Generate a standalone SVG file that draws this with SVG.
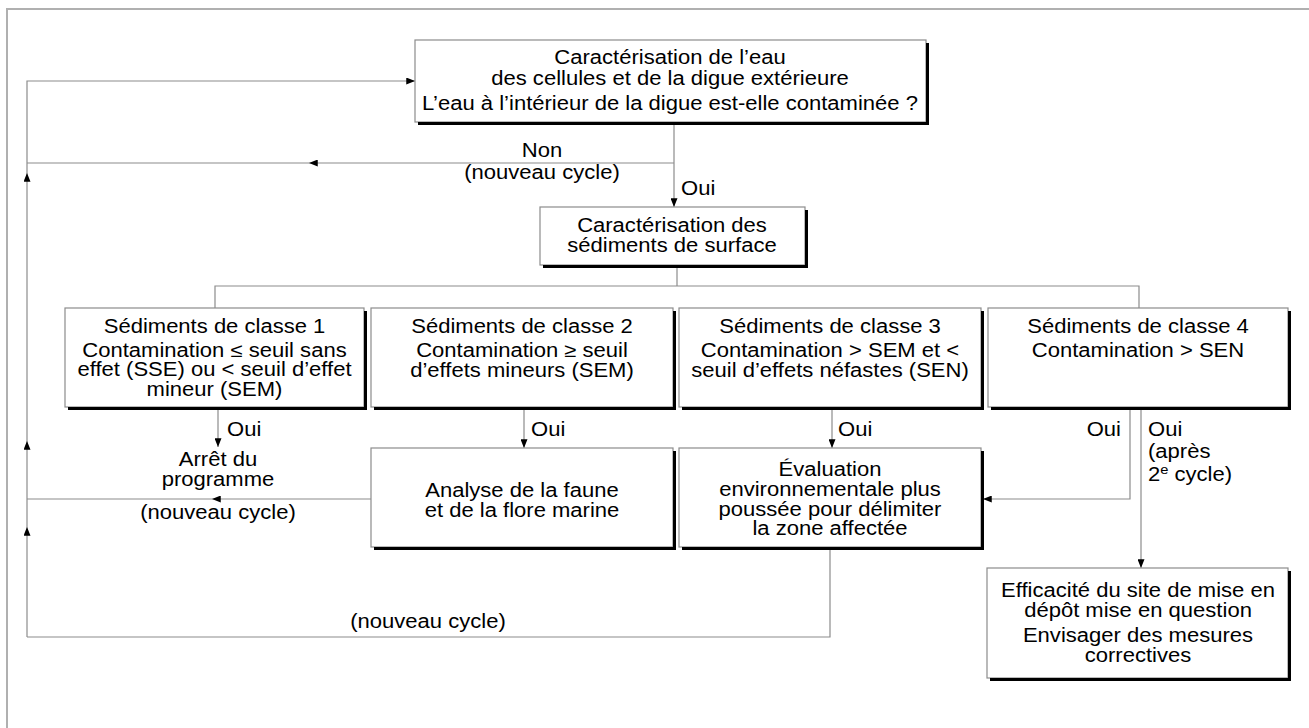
<svg xmlns="http://www.w3.org/2000/svg" width="1309" height="728" viewBox="0 0 1309 728">
<defs>
<style>
.box{fill:#fff;stroke:#8c8c8c;stroke-width:1.2}
.sh{fill:none;stroke:#000;stroke-width:3}
.ln{fill:none;stroke:#8c8c8c;stroke-width:1.2}
.t{font-family:"Liberation Sans",Arial,Helvetica,sans-serif;font-size:19.5px;fill:#000;text-anchor:middle}
.s{text-anchor:start}
.e{text-anchor:end}
</style>
<marker id="ah" viewBox="0 0 10 8" refX="10" refY="4" markerWidth="9" markerHeight="7" markerUnits="userSpaceOnUse" orient="auto">
<path d="M0,0 L10,4 L0,8 Z" fill="#000"/>
</marker>
</defs>
<rect width="1309" height="728" fill="#fff"/>
<path d="M7,728 V9 H1309" fill="none" stroke="#b0b0b0" stroke-width="2"/>

<g id="connectors">
<path class="ln" d="M674,122 V163"/>
<path class="ln" d="M674,163 V207" marker-end="url(#ah)"/>
<path class="ln" d="M674,163 H309" marker-end="url(#ah)"/>
<path class="ln" d="M309,163 H27"/>
<path class="ln" d="M27,637 V527" marker-end="url(#ah)"/>
<path class="ln" d="M27,527 V441" marker-end="url(#ah)"/>
<path class="ln" d="M27,441 V173" marker-end="url(#ah)"/>
<path class="ln" d="M27,173 V81 H415" marker-end="url(#ah)"/>
<path class="ln" d="M677,265 V286"/>
<path class="ln" d="M215,308 V286 H1139 V308"/>
<path class="ln" d="M218,407 V447" marker-end="url(#ah)"/>
<path class="ln" d="M371,499 H212" marker-end="url(#ah)"/>
<path class="ln" d="M212,499 H27"/>
<path class="ln" d="M524,407 V448" marker-end="url(#ah)"/>
<path class="ln" d="M832,407 V448" marker-end="url(#ah)"/>
<path class="ln" d="M1130,407 V499 H983" marker-end="url(#ah)"/>
<path class="ln" d="M1141,407 V568" marker-end="url(#ah)"/>
<path class="ln" d="M830,547 V637 H27"/>
</g>

<g id="labels">
<text class="t" transform="translate(542,0) scale(1.13,1)"><tspan x="0" y="157">Non</tspan><tspan x="0" y="179">(nouveau cycle)</tspan></text>
<text class="t s" transform="translate(681,0) scale(1.13,1)"><tspan x="0" y="195">Oui</tspan></text>
<text class="t s" transform="translate(227,0) scale(1.13,1)"><tspan x="0" y="436">Oui</tspan></text>
<text class="t" transform="translate(218,0) scale(1.13,1)"><tspan x="0" y="466">Arrêt du</tspan><tspan x="0" y="486">programme</tspan><tspan x="0" y="519">(nouveau cycle)</tspan></text>
<text class="t s" transform="translate(531,0) scale(1.13,1)"><tspan x="0" y="436">Oui</tspan></text>
<text class="t s" transform="translate(838,0) scale(1.13,1)"><tspan x="0" y="436">Oui</tspan></text>
<text class="t e" transform="translate(1121,0) scale(1.13,1)"><tspan x="0" y="436">Oui</tspan></text>
<text class="t s" transform="translate(1148,0) scale(1.13,1)"><tspan x="0" y="436">Oui</tspan><tspan x="0" y="458">(après</tspan><tspan x="0" y="481">2<tspan font-size="13" dy="-7">e</tspan><tspan dy="7"> cycle)</tspan></tspan></text>
<text class="t" transform="translate(428,0) scale(1.13,1)"><tspan x="0" y="628">(nouveau cycle)</tspan></text>
</g>

<g id="n-eau">
<rect class="box" x="415" y="40" width="511" height="82"/>
<path class="sh" d="M418,123.5 H927.5 V43"/>
<text class="t" transform="translate(670,0) scale(1.13,1)"><tspan x="0" y="64">Caractérisation de l’eau</tspan><tspan x="0" y="85">des cellules et de la digue extérieure</tspan><tspan x="0" y="110">L’eau à l’intérieur de la digue est-elle contaminée ?</tspan></text>
</g>

<g id="n-surface">
<rect class="box" x="540" y="207" width="265" height="58"/>
<path class="sh" d="M543,266.5 H806.5 V210"/>
<text class="t" transform="translate(672,0) scale(1.13,1)"><tspan x="0" y="232">Caractérisation des</tspan><tspan x="0" y="252">sédiments de surface</tspan></text>
</g>

<g id="n-classe1">
<rect class="box" x="65" y="308" width="299" height="99"/>
<path class="sh" d="M68,408.5 H365.5 V311"/>
<text class="t" transform="translate(214.5,0) scale(1.13,1)"><tspan x="0" y="333">Sédiments de classe 1</tspan><tspan x="0" y="357">Contamination ≤ seuil sans</tspan><tspan x="0" y="376">effet (SSE) ou &lt; seuil d’effet</tspan><tspan x="0" y="396">mineur (SEM)</tspan></text>
</g>

<g id="n-classe2">
<rect class="box" x="371" y="308" width="302" height="99"/>
<path class="sh" d="M374,408.5 H674.5 V311"/>
<text class="t" transform="translate(522,0) scale(1.13,1)"><tspan x="0" y="333">Sédiments de classe 2</tspan><tspan x="0" y="357">Contamination ≥ seuil</tspan><tspan x="0" y="377">d’effets mineurs (SEM)</tspan></text>
</g>

<g id="n-classe3">
<rect class="box" x="679" y="308" width="302" height="99"/>
<path class="sh" d="M682,408.5 H982.5 V311"/>
<text class="t" transform="translate(830,0) scale(1.13,1)"><tspan x="0" y="333">Sédiments de classe 3</tspan><tspan x="0" y="357">Contamination &gt; SEM et &lt;</tspan><tspan x="0" y="377">seuil d’effets néfastes (SEN)</tspan></text>
</g>

<g id="n-classe4">
<rect class="box" x="988" y="308" width="300" height="99"/>
<path class="sh" d="M991,408.5 H1289.5 V311"/>
<text class="t" transform="translate(1138,0) scale(1.13,1)"><tspan x="0" y="333">Sédiments de classe 4</tspan><tspan x="0" y="357">Contamination &gt; SEN</tspan></text>
</g>

<g id="n-analyse">
<rect class="box" x="371" y="448" width="302" height="99"/>
<path class="sh" d="M374,548.5 H674.5 V451"/>
<text class="t" transform="translate(522,0) scale(1.13,1)"><tspan x="0" y="497">Analyse de la faune</tspan><tspan x="0" y="517">et de la flore marine</tspan></text>
</g>

<g id="n-evaluation">
<rect class="box" x="679" y="448" width="302" height="99"/>
<path class="sh" d="M682,548.5 H982.5 V451"/>
<text class="t" transform="translate(830,0) scale(1.13,1)"><tspan x="0" y="476">Évaluation</tspan><tspan x="0" y="496">environnementale plus</tspan><tspan x="0" y="516">poussée pour délimiter</tspan><tspan x="0" y="535">la zone affectée</tspan></text>
</g>

<g id="n-efficacite">
<rect class="box" x="987" y="568" width="301" height="110"/>
<path class="sh" d="M990,679.5 H1289.5 V571"/>
<text class="t" transform="translate(1138,0) scale(1.13,1)"><tspan x="0" y="597">Efficacité du site de mise en</tspan><tspan x="0" y="617">dépôt mise en question</tspan><tspan x="0" y="642">Envisager des mesures</tspan><tspan x="0" y="662">correctives</tspan></text>
</g>
</svg>
